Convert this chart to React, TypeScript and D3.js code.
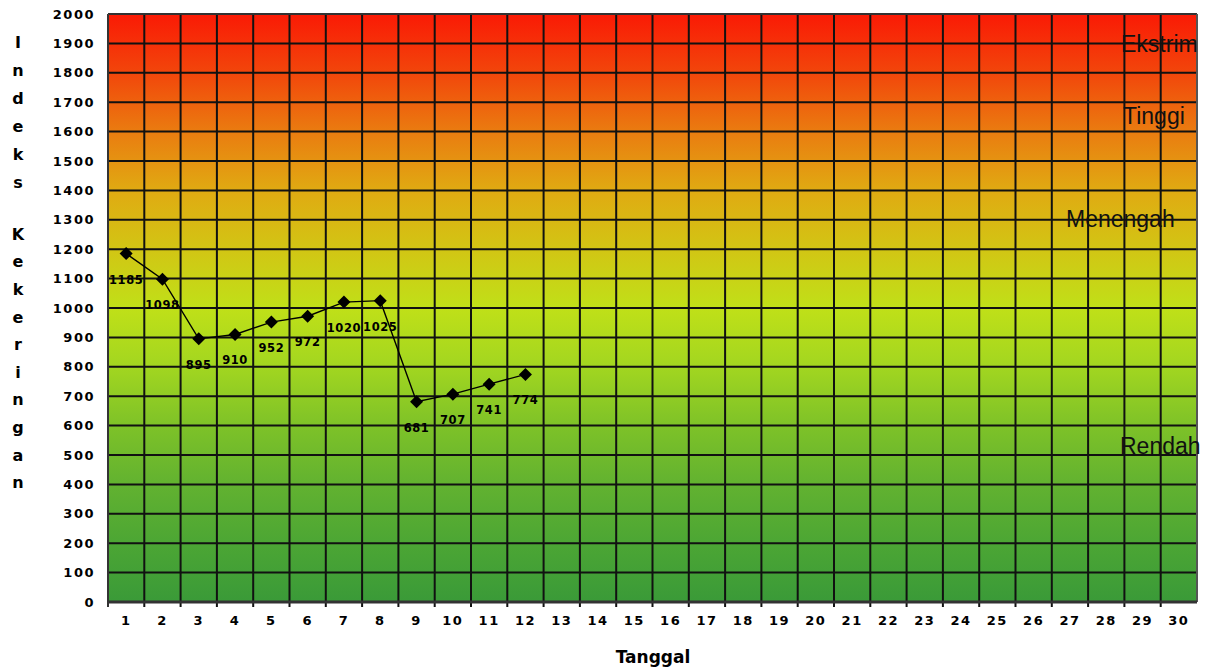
import React from "react";
import * as d3 from "d3";

const days = d3.range(1, 31).map(String);
const values = [1185, 1098, 895, 910, 952, 972, 1020, 1025, 681, 707, 741, 774];
const yTicks = d3.range(0, 2001, 100);
const titleTop = ["I", "n", "d", "e", "k", "s"];
const titleBottom = ["K", "e", "k", "e", "r", "i", "n", "g", "a", "n"];
const zones = [
  { name: "Ekstrim", value: 1900, x: 1121 },
  { name: "Tinggi", value: 1655, x: 1123 },
  { name: "Menengah", value: 1305, x: 1066 },
  { name: "Rendah", value: 533, x: 1120 },
];
const gradientStops = [
  { v: 2000, c: "#fa1a05" },
  { v: 1800, c: "#f2460b" },
  { v: 1600, c: "#ea7c10" },
  { v: 1400, c: "#e0aa12" },
  { v: 1200, c: "#d2c514" },
  { v: 1000, c: "#c0e018" },
  { v: 800, c: "#a2d620" },
  { v: 600, c: "#7ec228" },
  { v: 400, c: "#62b230" },
  { v: 200, c: "#4ca634" },
  { v: 0, c: "#3a9a38" },
];

const W = 1208;
const H = 670;
const left = 108;
const right = 1197;
const top = 14;
const bottom = 602;

export default function App() {
  const x = d3.scaleBand<string>().domain(days).range([left, right]);
  const y = d3.scaleLinear().domain([0, 2000]).range([bottom, top]);
  const cx = (i: number) => (x(days[i]) as number) + x.bandwidth() / 2;
  const line = d3
    .line<number>()
    .x((_, i) => cx(i))
    .y((d) => y(d));
  const boundaries = d3.range(0, 31).map((i) => left + i * x.bandwidth());
  const tickFont = "'DejaVu Sans', Verdana, sans-serif";
  return (
    <svg
      width={W}
      height={H}
      style={{ position: "absolute", left: 0, top: 0, background: "#fff" }}
    >
      <defs>
        <linearGradient id="bg" x1="0" y1={y(2000)} x2="0" y2={y(0)} gradientUnits="userSpaceOnUse">
          {gradientStops.map((s) => (
            <stop key={s.v} offset={(2000 - s.v) / 2000} stopColor={s.c} />
          ))}
        </linearGradient>
      </defs>
      <rect x={left} y={top} width={right - left} height={bottom - top} fill="url(#bg)" />
      {yTicks.map((t) => (
        <line key={"h" + t} x1={left} x2={right} y1={y(t)} y2={y(t)} stroke="#111" strokeWidth={2} />
      ))}
      {boundaries.map((b, i) => (
        <line key={"v" + i} x1={b} x2={b} y1={top} y2={bottom + (i === 30 ? 0 : 5)} stroke="#111" strokeWidth={2} />
      ))}
      <line x1={left} x2={left} y1={top} y2={bottom + 5} stroke="#333" strokeWidth={2} />
      <line x1={right} x2={right} y1={top} y2={bottom} stroke="#555" strokeWidth={2} />
      <line x1={left} x2={right} y1={bottom} y2={bottom} stroke="#333" strokeWidth={3} />
      <line x1={left} x2={right} y1={top} y2={top} stroke="#555" strokeWidth={1} />
      {yTicks.map((t) => (
        <text
          key={"yl" + t}
          x={95}
          y={y(t)}
          dy="0.36em"
          textAnchor="end"
          fontFamily={tickFont}
          fontWeight="bold"
          fontSize={13}
          letterSpacing={1.5}
          fill="#000"
        >
          {t}
        </text>
      ))}
      {days.map((d) => (
        <text
          key={"xl" + d}
          x={(x(d) as number) + x.bandwidth() / 2}
          y={625}
          textAnchor="middle"
          fontFamily={tickFont}
          fontWeight="bold"
          fontSize={13}
          letterSpacing={1.5}
          fill="#000"
        >
          {d}
        </text>
      ))}
      {zones.map((z) => (
        <text
          key={z.name}
          x={z.x}
          y={y(z.value)}
          dy="0.36em"
          fontFamily="'Liberation Sans', Arial, sans-serif"
          fontSize={23}
          fill="#111"
        >
          {z.name}
        </text>
      ))}
      <path d={line(values) || ""} fill="none" stroke="#000" strokeWidth={1.4} />
      {values.map((v, i) => {
        const px = cx(i);
        const py = y(v);
        return (
          <g key={"p" + i}>
            <path d={`M${px},${py - 6.5}L${px + 6.5},${py}L${px},${py + 6.5}L${px - 6.5},${py}Z`} fill="#000" />
            <text
              x={px}
              y={py + 30}
              textAnchor="middle"
              fontFamily={tickFont}
              fontWeight="bold"
              fontSize={11.5}
              letterSpacing={0.6}
              fill="#000"
            >
              {v}
            </text>
          </g>
        );
      })}
      {titleTop.map((c, i) => (
        <text
          key={"tt" + i}
          x={18}
          y={42 + i * 28}
          dy="0.36em"
          textAnchor="middle"
          fontFamily={tickFont}
          fontWeight="bold"
          fontSize={16}
          fill="#000"
        >
          {c}
        </text>
      ))}
      {titleBottom.map((c, i) => (
        <text
          key={"tb" + i}
          x={18}
          y={234 + i * 27.6}
          dy="0.36em"
          textAnchor="middle"
          fontFamily={tickFont}
          fontWeight="bold"
          fontSize={16}
          fill="#000"
        >
          {c}
        </text>
      ))}
      <text
        x={653}
        y={663}
        textAnchor="middle"
        fontFamily={tickFont}
        fontWeight="bold"
        fontSize={17}
        fill="#000"
      >
        Tanggal
      </text>
    </svg>
  );
}
